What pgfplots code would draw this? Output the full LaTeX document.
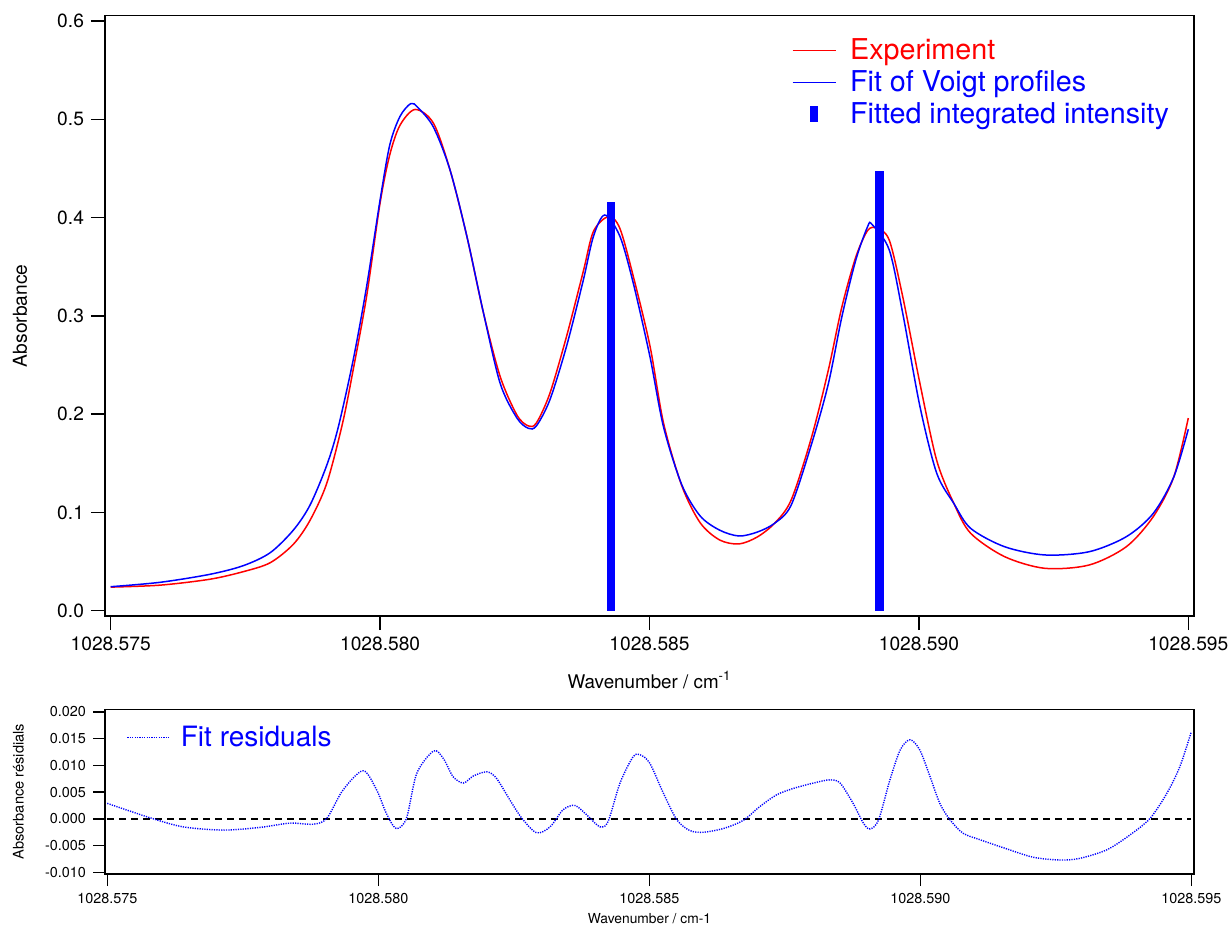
\documentclass[border=0pt]{standalone}
\usepackage{pgfplots}
\pgfplotsset{compat=1.18}
\usepackage{fontspec}
\setmainfont{TeX Gyre Heros}
\begin{document}
\begin{tikzpicture}
\path[use as bounding box] (0,0) rectangle (615.5pt,463.5pt);
% ---------------- top panel ----------------
\begin{axis}[
  at={(52.5pt,155.5pt)}, anchor=south west,
  scale only axis, width=544.5pt, height=300.15pt,
  xmin=-0.106, xmax=20.106, ymin=-0.0054, ymax=0.6054,
  axis line style={line width=0.75pt},
  tick align=outside, tick pos=left, major tick length=7pt,
  every tick/.style={black, line width=0.75pt},
  minor tick num=0,
  xtick={0,5,10,15,20},
  xticklabels={1028.575,1028.580,1028.585,1028.590,1028.595},
  ytick={0,0.1,0.2,0.3,0.4,0.5,0.6},
  /pgf/number format/assume math mode=true,
  yticklabel style={/pgf/number format/.cd, fixed, fixed zerofill, precision=1},
  tick label style={font=\fontsize{9.6}{11}\selectfont},
  xlabel={Wavenumber / cm\textsuperscript{-1}},
  ylabel={Absorbance},
  xlabel style={font=\fontsize{9.4}{11}\selectfont, at={(rel axis cs:0.5,0)}, anchor=base, yshift=-36.2pt},
  ylabel style={font=\fontsize{9.6}{11}\selectfont, at={(rel axis cs:-0.078,0.5)}, anchor=center, rotate=0},
  legend cell align=left,
  legend style={draw=none, fill=none, at={(rel axis cs:0.6308,0.9687)}, anchor=north west,
    inner sep=0pt, outer sep=0pt, row sep=0pt,
    font=\fontsize{14.35}{15.5}\selectfont,
    /tikz/every odd column/.append style={column sep=4.85pt}},
]
\addplot[red, line width=0.75pt, smooth,
  legend image code/.code={\draw[red, line width=0.75pt] (0pt,0pt) -- (21.5pt,0pt);}]
coordinates {
(0,0.024) (0.92,0.026) (1.84,0.032) (2.46,0.0397) (2.96,0.0488) (3.39,0.0676)
(3.70,0.092) (4.01,0.1296) (4.30,0.19) (4.50,0.245) (4.75,0.32) (5.00,0.415)
(5.18,0.464) (5.37,0.494) (5.65,0.510) (5.99,0.496) (6.30,0.448) (6.61,0.381)
(6.92,0.3026) (7.23,0.238) (7.54,0.199) (7.75,0.188) (7.90,0.191) (8.15,0.221)
(8.46,0.279) (8.77,0.345) (8.96,0.386) (9.24,0.401) (9.45,0.389) (9.70,0.340)
(10.01,0.269) (10.26,0.191) (10.60,0.127) (10.94,0.0895) (11.30,0.072)
(11.66,0.0679) (12.00,0.075) (12.32,0.0889) (12.63,0.1127) (13.01,0.177)
(13.32,0.245) (13.57,0.309) (13.83,0.360) (14.05,0.387) (14.22,0.389)
(14.45,0.377) (14.70,0.3195) (15.02,0.231) (15.33,0.153) (15.65,0.109)
(15.96,0.0788) (16.59,0.055) (17.34,0.0431) (18.16,0.0465) (18.85,0.0651)
(19.35,0.0957) (19.73,0.136) (20.0,0.196)
};
\addlegendentry{\textcolor{red}{Experiment}}
\addplot[blue, line width=0.75pt, smooth,
  legend image code/.code={\draw[blue, line width=0.75pt] (0pt,0pt) -- (21.5pt,0pt);}]
coordinates {
(0,0.0244) (0.92,0.0289) (1.84,0.037) (2.46,0.0458) (2.96,0.059) (3.39,0.082)
(3.70,0.1075) (4.01,0.148) (4.22,0.186) (4.50,0.255) (4.75,0.330) (5.00,0.418)
(5.18,0.474) (5.37,0.503) (5.57,0.516) (5.70,0.512) (5.99,0.492) (6.30,0.448)
(6.61,0.381) (6.92,0.3026) (7.23,0.231) (7.54,0.196) (7.75,0.1856) (7.90,0.188)
(8.15,0.2144) (8.46,0.269) (8.77,0.336) (8.96,0.381) (9.17,0.4026) (9.45,0.381)
(9.70,0.333) (10.01,0.258) (10.26,0.187) (10.60,0.128) (10.94,0.0964)
(11.30,0.082) (11.66,0.076) (12.00,0.080) (12.32,0.0889) (12.63,0.1075)
(13.01,0.170) (13.32,0.231) (13.57,0.299) (13.83,0.357) (14.05,0.391)
(14.13,0.393) (14.45,0.367) (14.70,0.3026) (15.02,0.2076) (15.33,0.140)
(15.65,0.109) (15.96,0.0838) (16.59,0.0651) (17.34,0.0567) (18.16,0.060)
(18.85,0.0753) (19.35,0.099) (19.73,0.136) (20.0,0.1846)
};
\addlegendentry{\textcolor{blue}{Fit of Voigt profiles}}
\addplot[blue, line width=4.2pt,
  legend image code/.code={\path[draw=none, fill=none] (0pt,0pt) -- (21.5pt,0pt); \fill[blue, draw=none] (8.65pt,-4pt) rectangle (12.85pt,4pt);}]
coordinates {(9.28,0) (9.28,0.416)};
\addlegendentry{\textcolor{blue}{Fitted integrated intensity}}
\addplot[blue, line width=4.2pt, forget plot]
coordinates {(14.27,0) (14.27,0.447)};
\end{axis}
% ---------------- bottom panel ----------------
\begin{axis}[
  at={(52.5pt,26.5pt)}, anchor=south west,
  scale only axis, width=544.5pt, height=82.35pt,
  xmin=-0.042, xmax=20.05, ymin=-0.01032, ymax=0.0205,
  axis line style={line width=0.75pt},
  tick align=outside, tick pos=left, major tick length=6pt,
  every tick/.style={black, line width=0.75pt},
  minor tick num=0,
  xtick={0,5,10,15,20},
  xticklabels={1028.575,1028.580,1028.585,1028.590,1028.595},
  ytick={-0.01,-0.005,0,0.005,0.01,0.015,0.02},
  scaled y ticks=false,
  /pgf/number format/assume math mode=true,
  yticklabel style={/pgf/number format/.cd, fixed, fixed zerofill, precision=3},
  tick label style={font=\fontsize{7.2}{8.5}\selectfont},
  xlabel={Wavenumber / cm-1},
  ylabel={Absorbance résidials},
  xlabel style={font=\fontsize{6.9}{8}\selectfont, at={(rel axis cs:0.5,0)}, anchor=base, yshift=-24.65pt},
  ylabel style={font=\fontsize{7.3}{8.5}\selectfont, at={(rel axis cs:-0.0795,0.5)}, anchor=center},
  legend cell align=left,
  legend style={draw=none, fill=none, at={(rel axis cs:0.0199,0.924)}, anchor=north west,
    inner sep=0pt, outer sep=0pt, row sep=0pt,
    font=\fontsize{14}{15.5}\selectfont,
    /tikz/every odd column/.append style={column sep=3.6pt}},
]
\addplot[black, line width=0.75pt, dash pattern=on 3.5pt off 2.5pt, forget plot]
coordinates {(0,0) (20,0)};
\addplot[blue, line width=0.7pt, dash pattern=on 0.6pt off 0.6pt, smooth,
  legend image code/.code={\draw[blue, line width=0.7pt, dash pattern=on 0.6pt off 0.6pt] (0pt,0pt) -- (20.8pt,0pt);}]
coordinates {
(0,0.0029) (0.79,0.0002) (1.40,-0.0015) (2.14,-0.0021) (2.82,-0.0016)
(3.37,-0.0008) (3.80,-0.0010) (4.05,0.0001) (4.35,0.0054) (4.72,0.0090)
(4.97,0.0054) (5.15,0.0010) (5.33,-0.0018) (5.52,0.0001) (5.71,0.0085)
(6.02,0.0127) (6.20,0.0113) (6.38,0.0079) (6.57,0.0067) (6.75,0.0080)
(7.00,0.0088) (7.18,0.0076) (7.43,0.0035) (7.65,0.0001) (7.92,-0.0026)
(8.17,-0.0015) (8.41,0.0017) (8.63,0.0025) (8.85,0.0007) (9.09,-0.0015)
(9.24,-0.0005) (9.46,0.0067) (9.70,0.0116) (9.83,0.0120) (10.01,0.0104)
(10.26,0.0048) (10.51,-0.0002) (10.75,-0.0022) (11.00,-0.0025) (11.37,-0.0018)
(11.73,-0.0003) (12.04,0.0023) (12.35,0.0045) (12.66,0.0057) (13.03,0.0067)
(13.33,0.0073) (13.52,0.0067) (13.76,0.0029) (13.95,-0.0008) (14.07,-0.0019)
(14.23,-0.0002) (14.44,0.0073) (14.63,0.0129) (14.81,0.0148) (14.99,0.0129)
(15.18,0.0079) (15.36,0.0029) (15.55,-0.0002) (15.79,-0.0027) (16.10,-0.0039)
(16.59,-0.0056) (17.09,-0.0072) (17.58,-0.0077) (17.94,-0.0074) (18.44,-0.0058)
(18.87,-0.0030) (19.24,0.0001) (19.55,0.0048) (19.79,0.0098) (20.0,0.0163)
};
\addlegendentry{\textcolor{blue}{Fit residuals}}
\end{axis}
\end{tikzpicture}
\end{document}
